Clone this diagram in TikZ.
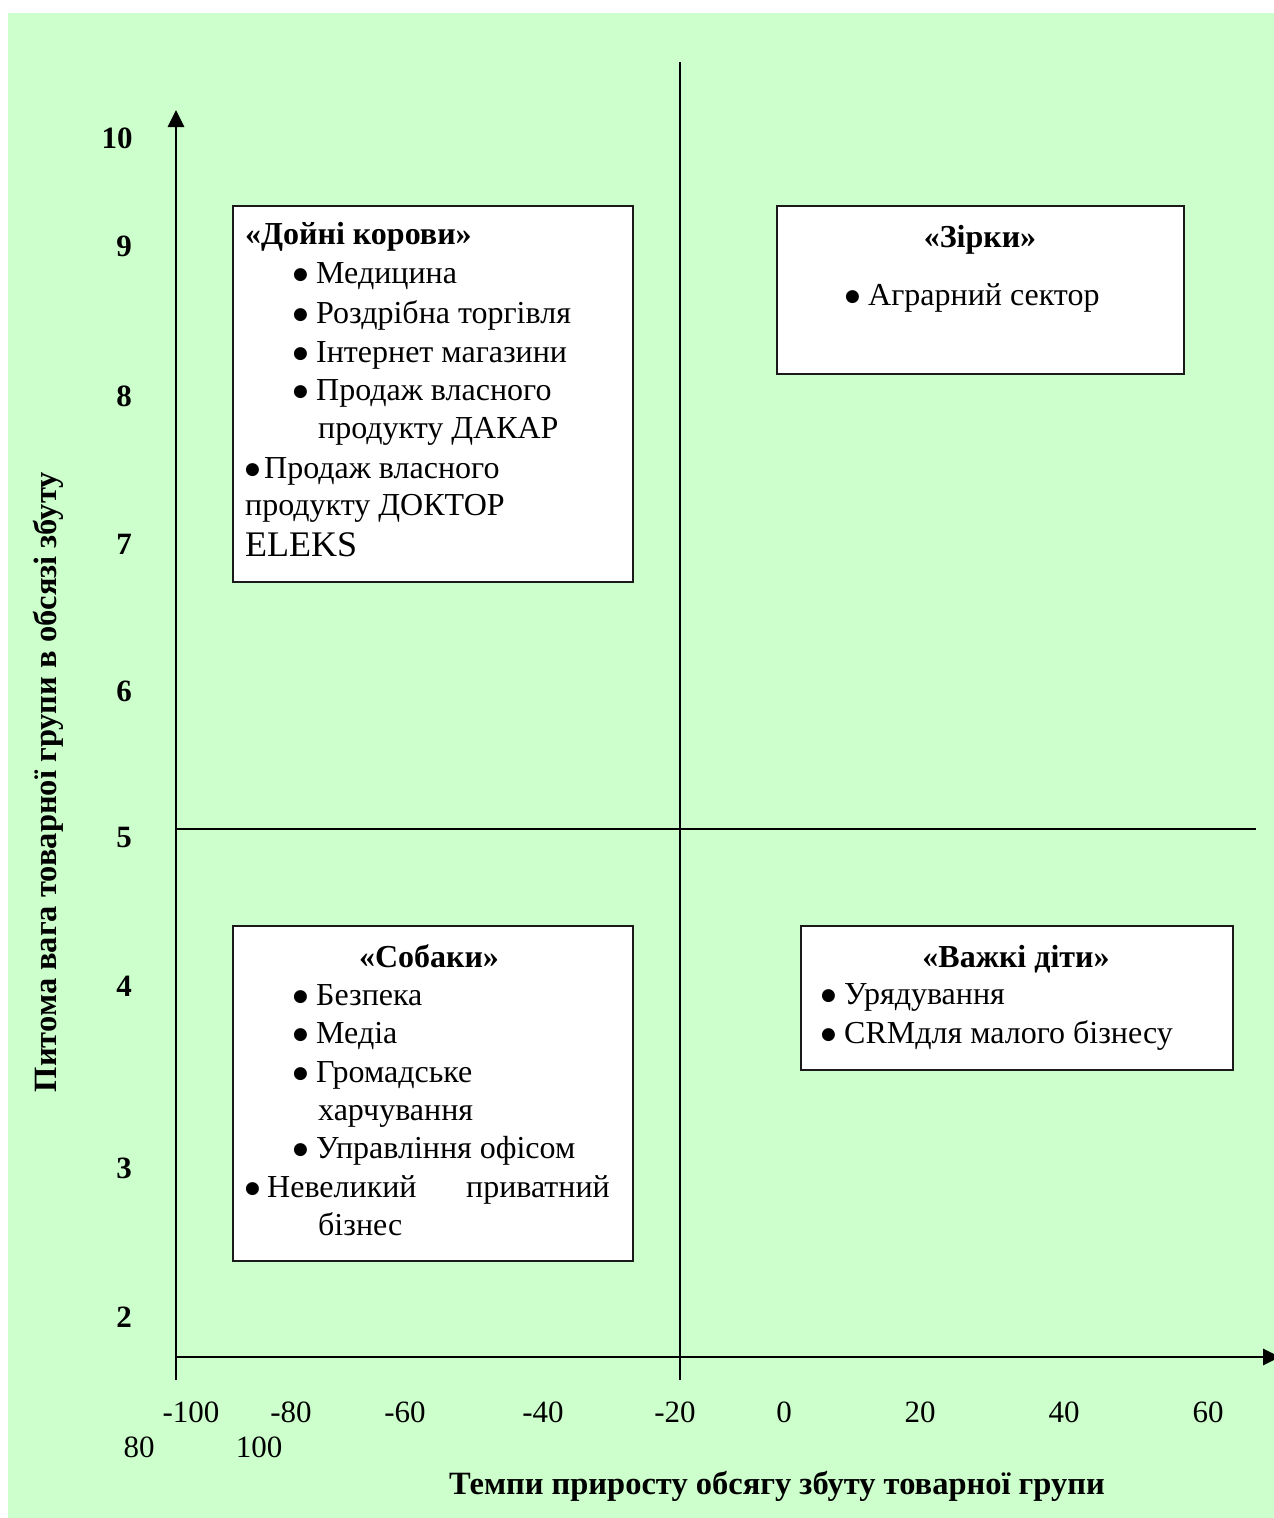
\documentclass[tikz,border=0pt]{standalone}
\usepackage{fontspec}
\setmainfont{Liberation Serif}
\newfontfamily\symfont{DejaVu Sans}
\usetikzlibrary{arrows.meta}
\definecolor{bgreen}{HTML}{CCFFCC}
\definecolor{frame}{HTML}{1A1A1A}
% round bullet set in a fixed-width box so that the item text starts at a fixed offset
\newcommand{\bul}[1]{\makebox[#1][l]{\raisebox{3.5pt}{\fontsize{17}{17}\symfont ●}}}
\begin{document}
\begin{tikzpicture}[x=1pt,y=-1pt,
  quad/.style={draw=frame, line width=2pt, fill=white, inner sep=0pt, anchor=north west},
  item/.style={anchor=base west, inner sep=0pt, font=\fontsize{32}{38}\selectfont},
  head/.style={anchor=base, inner sep=0pt, font=\fontsize{32}{38}\selectfont\bfseries},
  ytick/.style={anchor=base, inner sep=0pt, font=\fontsize{31}{37}\selectfont\bfseries},
  xtick/.style={anchor=base, inner sep=0pt, font=\fontsize{31}{37}\selectfont},
  axislabel/.style={inner sep=0pt, font=\fontsize{32.5}{38}\selectfont\bfseries},
  axis/.style={line width=2.8pt, -{Triangle[length=17pt,width=16pt]}},
  divider/.style={line width=1.5pt},
]
\useasboundingbox (0,0) rectangle (1274,1518);
\fill[white] (0,0) rectangle (1274,1518);
\fill[bgreen] (7.5,13) rectangle (1274,1518);

% axes and quadrant dividers
\coordinate (ybot) at (176,1380);
\coordinate (ytop) at (176,110);
\coordinate (xbeg) at (176,1357);
\coordinate (xend) at (1280,1357);
\coordinate (vtop) at (680,62);
\coordinate (vbot) at (680,1380);
\coordinate (hleft) at (176,829);
\coordinate (hright) at (1256,829);
\draw[divider] (vtop) -- (vbot);
\draw[divider] (hleft) -- (hright);
\draw[axis] (ybot) -- (ytop);
\draw[axis] (xbeg) -- (xend);

% y ticks
\node[ytick] (y10) at (117,148) {10};
\node[ytick] (y9) at (124,256) {9};
\node[ytick] (y8) at (124,406) {8};
\node[ytick] (y7) at (124,554) {7};
\node[ytick] (y6) at (124,701) {6};
\node[ytick] (y5) at (124,847) {5};
\node[ytick] (y4) at (124,996) {4};
\node[ytick] (y3) at (124,1178) {3};
\node[ytick] (y2) at (124,1327) {2};

% x ticks
\node[xtick] (xm100) at (191,1422) {-100};
\node[xtick] (xm80) at (291,1422) {-80};
\node[xtick] (xm60) at (405,1422) {-60};
\node[xtick] (xm40) at (543,1422) {-40};
\node[xtick] (xm20) at (675,1422) {-20};
\node[xtick] (x0) at (784,1422) {0};
\node[xtick] (x20) at (920,1422) {20};
\node[xtick] (x40) at (1064,1422) {40};
\node[xtick] (x60) at (1208,1422) {60};
\node[xtick] (x80) at (139,1457) {80};
\node[xtick] (x100) at (259,1457) {100};

% axis titles
\node[axislabel, rotate=90] (ylab) at (48,782) {Питома вага товарної групи в обсязі збуту};
\node[axislabel, anchor=base] (xlab) at (777,1494) {Темпи приросту обсягу збуту товарної групи};

% quadrant boxes
\node[quad, minimum width=400pt, minimum height=376pt] (cows) at (232,205) {};
\node[quad, minimum width=407pt, minimum height=168pt] (stars) at (776,205) {};
\node[quad, minimum width=400pt, minimum height=335pt] (dogs) at (232,925) {};
\node[quad, minimum width=432pt, minimum height=144pt] (kids) at (800,925) {};

% cash cows
\node[head, anchor=base west] (cowsT) at (245,244) {«Дойні корови»};
\node[item] (c1) at (293,283) {\bul{23pt}Медицина};
\node[item] (c2) at (293,323) {\bul{23pt}Роздрібна торгівля};
\node[item] (c3) at (293,362) {\bul{23pt}Інтернет магазини};
\node[item] (c4) at (293,400) {\bul{23pt}Продаж власного};
\node[item] (c4b) at (318,438) {продукту ДАКАР};
\node[item] (c5) at (245,478) {\bul{19pt}Продаж власного};
\node[item] (c5b) at (245,515) {продукту ДОКТОР};
\node[item, font=\fontsize{36}{42}\selectfont] (c5c) at (245,556) {ELEKS};

% stars
\node[head] (starsT) at (980,247) {«Зірки»};
\node[item] (s1) at (845,305) {\bul{23pt}Аграрний сектор};

% dogs
\node[head] (dogsT) at (429,967) {«Собаки»};
\node[item] (d1) at (293,1005) {\bul{23pt}Безпека};
\node[item] (d2) at (293,1043) {\bul{23pt}Медіа};
\node[item] (d3) at (293,1082) {\bul{23pt}Громадське};
\node[item] (d3b) at (318,1120) {харчування};
\node[item] (d4) at (293,1158) {\bul{23pt}Управління офісом};
\node[item] (d5) at (245,1197) {\bul{22pt}Невеликий};
\node[item, anchor=base east] (d5a) at (610,1197) {приватний};
\node[item] (d5b) at (318,1235) {бізнес};

% question marks
\node[head] (kidsT) at (1016,967) {«Важкі діти»};
\node[item] (k1) at (821,1004) {\bul{23pt}Урядування};
\node[item] (k2) at (821,1043) {\bul{23pt}CRMдля малого бізнесу};
\end{tikzpicture}
\end{document}
